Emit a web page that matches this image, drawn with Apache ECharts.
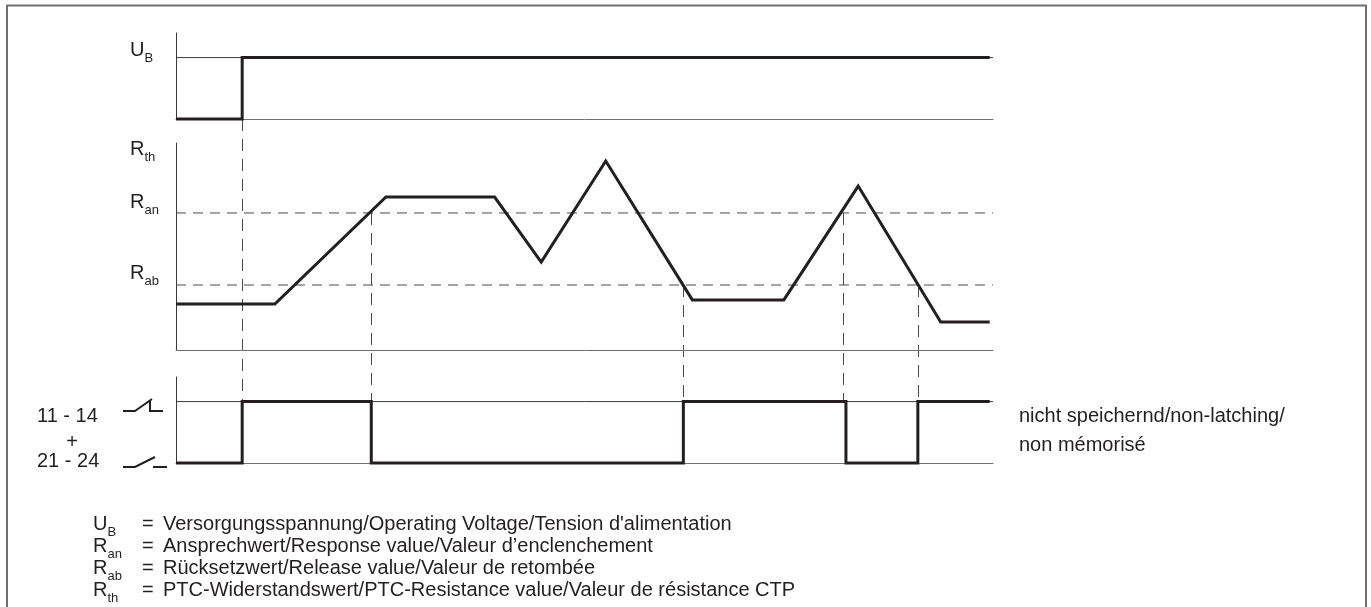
<!DOCTYPE html>
<html>
<head>
<meta charset="utf-8">
<title>PTC timing diagram</title>
<script src="https://cdn.jsdelivr.net/npm/echarts@6/dist/echarts.min.js"></script>
<style>
  html, body { margin: 0; padding: 0; background: #fff; }
  #chart { width: 1371px; height: 607px; }
</style>
</head>
<body>
<div id="chart"></div>
<script>
// time runs 0..100 across the plot width
const timeRange = [0, 100];

// supply voltage U_B (0 = off, 1 = on)
const ubTimes = [0, 8.1, 8.1, 99.6];
const ubLevels = [0, 0, 1, 1];

// PTC resistance R_th, on a 0..10 scale
const rthTimes = [0, 12.1, 25.7, 39.0, 44.7, 52.6, 63.2, 74.4, 83.5, 93.6, 99.6];
const rthValues = [2.22, 2.22, 7.39, 7.39, 4.25, 9.13, 2.42, 2.42, 7.92, 1.35, 1.35];

// thresholds: R_an (response) and R_ab (release)
const thresholdNames = ["an", "ab"];
const thresholdValues = [6.62, 3.14];

// relay contacts 11-14 + 21-24 (0 = open, 1 = closed)
const relayTimes = [0, 8.1, 8.1, 23.9, 23.9, 62.1, 62.1, 82.0, 82.0, 90.8, 90.8, 99.6];
const relayLevels = [0, 0, 1, 1, 0, 0, 1, 1, 0, 0, 1, 1];

// dashed drop lines: time and where each one starts
const dropTimes = [8.1, 23.9, 62.1, 81.6, 90.8];
const dropFrom = ["ub", "an", "ab", "an", "ab"];

// legend
const legendSymbols = [["U", "B"], ["R", "an"], ["R", "ab"], ["R", "th"]];
const legendTexts = [
  "Versorgungsspannung/Operating Voltage/Tension d'alimentation",
  "Ansprechwert/Response value/Valeur d\u2019enclenchement",
  "R\u00fccksetzwert/Release value/Valeur de retomb\u00e9e",
  "PTC-Widerstandswert/PTC-Resistance value/Valeur de r\u00e9sistance CTP",
];
const modeText = ["nicht speichernd/non-latching/", "non m\u00e9moris\u00e9"];

const FONT = '"Liberation Sans", Arial, Helvetica, sans-serif';
const INK = "#231f20";

const chart = echarts.init(document.getElementById("chart"));

function pairs(xs, ys) {
  return xs.map((x, i) => [x, ys[i]]);
}

const grids = [
  { left: 176, top: 33, width: 817, height: 86 },
  { left: 176, top: 143, width: 817, height: 207 },
  { left: 176, top: 377, width: 817, height: 86 },
];
const yMax = [1.4, 10, 1.4];

const xAxes = grids.map((g, i) => ({
  type: "value",
  gridIndex: i,
  min: timeRange[0],
  max: timeRange[1],
  axisLine: { show: true, onZero: false, lineStyle: { color: "#707070", width: 1 } },
  axisTick: { show: false },
  axisLabel: { show: false },
  splitLine: { show: false },
}));
const yAxes = grids.map((g, i) => ({
  type: "value",
  gridIndex: i,
  min: 0,
  max: yMax[i],
  axisLine: { show: true, onZero: false, lineStyle: { color: "#3a3a3a", width: 1 } },
  axisTick: { show: false },
  axisLabel: { show: false },
  splitLine: { show: false },
}));

function thin(grid, data, color, dash) {
  return {
    type: "line",
    xAxisIndex: grid,
    yAxisIndex: grid,
    data: data,
    symbol: "none",
    silent: true,
    clip: false,
    z: 1,
    lineStyle: { color: color, width: 1, type: dash || "solid" },
  };
}
function thick(grid, data) {
  return {
    type: "line",
    xAxisIndex: grid,
    yAxisIndex: grid,
    data: data,
    symbol: "none",
    silent: true,
    clip: false,
    z: 3,
    lineStyle: { color: INK, width: 3, join: "miter", cap: "butt" },
  };
}

const series = [
  thin(0, [[timeRange[0], 1], [timeRange[1], 1]], "#3a3a3a"),
  thick(0, pairs(ubTimes, ubLevels)),
];
thresholdValues.forEach((v) => {
  series.push(thin(1, [[timeRange[0], v], [timeRange[1], v]], "#4a4a4a", [10, 7]));
});
series.push(thick(1, pairs(rthTimes, rthValues)));
series.push(thin(2, [[timeRange[0], 1], [timeRange[1], 1]], "#3a3a3a"));
series.push(thick(2, pairs(relayTimes, relayLevels)));

chart.setOption({
  animation: false,
  backgroundColor: "#fff",
  grid: grids,
  xAxis: xAxes,
  yAxis: yAxes,
  series: series,
});

// ---- overlay: labels, drop lines, frame ----
function txt(x, y, s, size, align) {
  return {
    type: "text",
    x: x,
    y: y,
    silent: true,
    style: {
      text: s,
      font: size + "px " + FONT,
      fill: INK,
      align: align || "left",
      verticalAlign: "middle",
      textAlign: align || "left",
      textVerticalAlign: "middle",
    },
  };
}
// main letter + subscript, placed by baseline
function symbolLabel(x, baseline, main, sub) {
  return [
    txt(x, baseline - 7, main, 20),
    txt(x + 14.5, baseline + 1, sub, 13),
  ];
}

const els = [];

els.push({
  type: "rect",
  silent: true,
  shape: { x: 7, y: 5.5, width: 1359, height: 700 },
  style: { fill: "none", stroke: "#707070", lineWidth: 2 },
});

// drop lines from the triggering event down to the relay "closed" level
dropTimes.forEach((t, i) => {
  let start;
  if (dropFrom[i] === "ub") start = chart.convertToPixel({ gridIndex: 0 }, [t, 0]);
  else start = chart.convertToPixel({ gridIndex: 1 }, [t, thresholdValues[thresholdNames.indexOf(dropFrom[i])]]);
  const end = chart.convertToPixel({ gridIndex: 2 }, [t, 1]);
  const x = Math.round(start[0]) + 0.5;
  els.push({
    type: "line",
    silent: true,
    shape: { x1: x, y1: start[1], x2: x, y2: end[1] },
    style: { stroke: "#4a4a4a", lineWidth: 1, lineDash: [12, 8] },
  });
});

// panel labels
els.push(...symbolLabel(130, 57, "U", "B"));
els.push(...symbolLabel(130, 156, "R", "th"));
els.push(...symbolLabel(130, 209, "R", "an"));
els.push(...symbolLabel(130, 280, "R", "ab"));

// relay labels and contact symbols
els.push(txt(37, 416, "11 - 14", 20));
els.push(txt(72, 442, "+", 20, "center"));
els.push(txt(37, 461, "21 - 24", 20));
const contactStyle = { stroke: INK, lineWidth: 2, fill: "none" };
els.push({ type: "polyline", silent: true, shape: { points: [[123, 411], [135, 411], [152, 399]] }, style: contactStyle });
els.push({ type: "polyline", silent: true, shape: { points: [[150, 400], [150, 411], [163, 411]] }, style: contactStyle });
els.push({ type: "polyline", silent: true, shape: { points: [[123, 467], [135, 467], [155, 457]] }, style: contactStyle });
els.push({ type: "polyline", silent: true, shape: { points: [[153, 467], [167, 467]] }, style: contactStyle });

// operating mode note
els.push(txt(1019, 416, modeText[0], 20));
els.push(txt(1019, 445, modeText[1], 20));

// legend
legendSymbols.forEach((sym, i) => {
  const b = 531 + i * 22;
  els.push(...symbolLabel(93, b, sym[0], sym[1]));
  els.push(txt(142, b - 7, "=", 20));
  els.push(txt(163, b - 7, legendTexts[i], 20));
});

chart.setOption({ graphic: { elements: els } });

window.addEventListener("resize", () => {
  chart.resize();
});
</script>
</body>
</html>
